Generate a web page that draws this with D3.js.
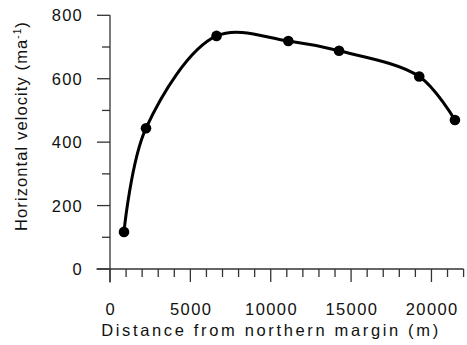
<!DOCTYPE html>
<html><head><meta charset="utf-8">
<script src="https://cdn.jsdelivr.net/npm/d3@7"></script>
<style>body{margin:0;background:#fff}svg{display:block}text{font-family:"Liberation Sans",Arial,sans-serif;fill:#111}</style>
</head><body>
<script>
const distance = [871, 2240, 6630, 11095, 14250, 19240, 21460];
const velocity = [117, 444, 735, 719, 688, 607, 470];
const xTicks = [0, 5000, 10000, 15000, 20000];
const yTicks = [0, 200, 400, 600, 800];
const xLabel = "Distance from northern margin (m)";
const yLabel = "Horizontal velocity (ma";

const W = 467, H = 345;
const svg = d3.select("body").append("svg").attr("width", W).attr("height", H);
const x = d3.scaleLinear().domain([0, 22000]).range([110, 463.6]);
const y = d3.scaleLinear().domain([0, 800]).range([269, 15.3]);

// X axis
const gx = svg.append("g").attr("transform", "translate(0,269)");
gx.append("line").attr("x1", 96.5).attr("x2", x(22000)).attr("stroke", "#333").attr("stroke-width", 1.3);
d3.range(0, 22001, 1000).forEach(v => {
  const major = v % 5000 === 0;
  gx.append("line").attr("x1", x(v)).attr("x2", x(v)).attr("y1", 0).attr("y2", major ? 13 : 8)
    .attr("stroke", "#333").attr("stroke-width", 1.3);
});
xTicks.forEach(v => {
  gx.append("text").attr("x", x(v) + 0.8).attr("y", 46).attr("text-anchor", "middle")
    .style("font-size", "16.5px").style("letter-spacing", "1.4px").text(v);
});

// Y axis
const gy = svg.append("g").attr("transform", "translate(110,0)");
gy.append("line").attr("y1", y(800)).attr("y2", 282.5).attr("stroke", "#333").attr("stroke-width", 1.3);
d3.range(0, 801, 100).forEach(v => {
  const major = v % 200 === 0;
  gy.append("line").attr("x1", 0).attr("x2", major ? -13 : -8).attr("y1", y(v)).attr("y2", y(v))
    .attr("stroke", "#333").attr("stroke-width", 1.3);
});
yTicks.forEach(v => {
  gy.append("text").attr("x", -27).attr("y", y(v)).attr("dy", "0.36em").attr("text-anchor", "end")
    .style("font-size", "16.5px").style("letter-spacing", "1.2px").text(v);
});

// Axis labels
svg.append("text").attr("x", 271).attr("y", 336).attr("text-anchor", "middle")
  .style("font-size", "16.5px").style("letter-spacing", "2.65px").text(xLabel);
const yl = svg.append("text").attr("transform", "translate(26.5,126) rotate(-90)").attr("text-anchor", "middle")
  .style("font-size", "16.5px").style("letter-spacing", "1.1px");
yl.append("tspan").text(yLabel);
yl.append("tspan").attr("dy", -6).style("font-size", "10px").text("-1");
yl.append("tspan").attr("dy", 6).text(")");

// Data
const pts = distance.map((d, i) => [d, velocity[i]]);
const line = d3.line().x(d => x(d[0])).y(d => y(d[1])).curve(d3.curveCatmullRom.alpha(0.5));
svg.append("path").attr("d", line(pts)).attr("fill", "none").attr("stroke", "#000").attr("stroke-width", 3);
svg.selectAll("circle.pt").data(pts).enter().append("circle").attr("class", "pt")
  .attr("cx", d => x(d[0])).attr("cy", d => y(d[1])).attr("r", 5.3).attr("fill", "#000");
</script>
</body></html>
